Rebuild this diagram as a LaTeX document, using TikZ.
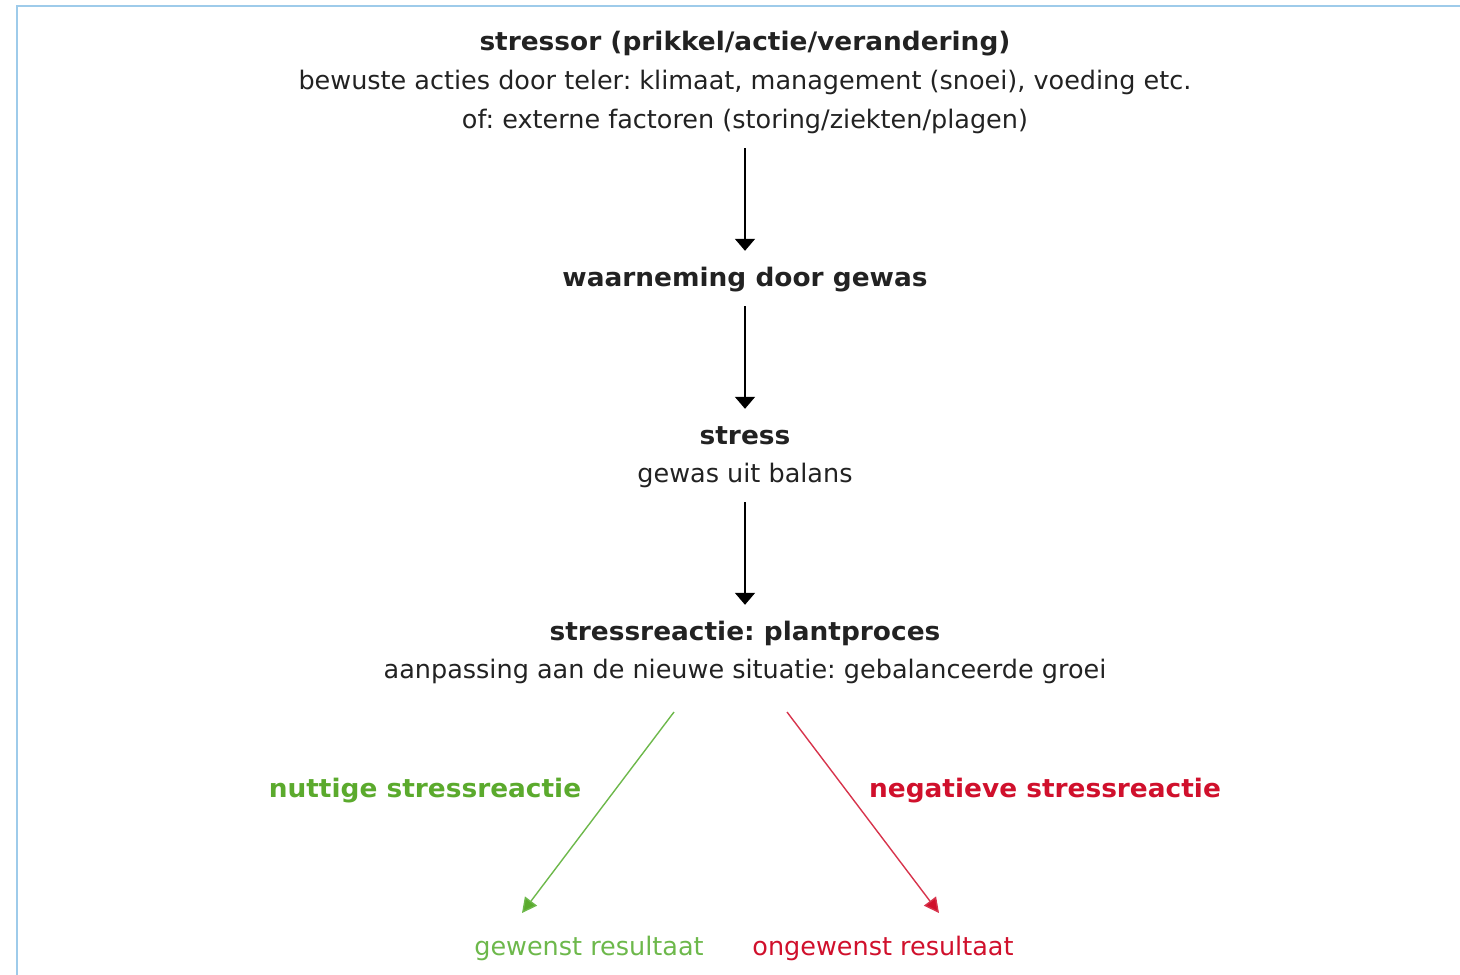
\documentclass[tikz,border=0pt]{standalone}
\usepackage{fontspec}
\setmainfont{DejaVu Sans}[BoldFeatures={FakeStretch=1.035}]
\usetikzlibrary{arrows.meta}
\frenchspacing
\definecolor{txt}{HTML}{222222}
\definecolor{gr}{HTML}{5BAA2D}
\definecolor{grl}{HTML}{6DB84B}
\definecolor{rd}{HTML}{D0102C}
\definecolor{bord}{HTML}{9ECBEA}
\tikzset{
  lbl/.style={inner sep=0pt, anchor=base, text height=19pt, text depth=6pt, font=\fontsize{25.5}{30}\selectfont, text=txt},
  bld/.style={lbl, font=\fontsize{25.5}{30}\selectfont\bfseries},
  flow/.style={line width=1.8pt, draw=black, -{Triangle[width=20pt,length=12pt]}, shorten <=14pt, shorten >=16pt},
  goodarr/.style={line width=1.4pt, draw=grl, -{Triangle[width=15pt,length=15pt,fill=gr]}},
  badarr/.style={line width=1.4pt, draw=rd!85, -{Triangle[width=15pt,length=15pt,fill=rd]}}
}
\begin{document}
\begin{tikzpicture}[x=1pt,y=-1pt]
\useasboundingbox (0,0) rectangle (1460,975);
\draw[bord, line width=2pt] (17,975) -- (17,6) -- (1460,6);
\node[bld] (s1) at (745,50) {stressor (prikkel/actie/verandering)};
\node[lbl] (s2) at (745,89) {bewuste acties door teler: klimaat, management (snoei), voeding etc.};
\node[lbl] (s3) at (745,128) {of: externe factoren (storing/ziekten/plagen)};
\node[bld] (w) at (745,286) {waarneming door gewas};
\node[bld] (st) at (745,444) {stress};
\node[lbl] (gub) at (745,482) {gewas uit balans};
\node[bld] (sr) at (745,640) {stressreactie: plantproces};
\node[lbl] (aan) at (745,678) {aanpassing aan de nieuwe situatie: gebalanceerde groei};
\node[bld, text=gr] (nut) at (425,797) {nuttige stressreactie};
\node[bld, text=rd] (neg) at (1045,797) {negatieve stressreactie};
\node[lbl, text=grl] (gew) at (589,955) {gewenst resultaat};
\node[lbl, text=rd] (ong) at (883,955) {ongewenst resultaat};
\draw[flow] (s3) -- (w);
\draw[flow] (w) -- (st);
\draw[flow] (gub) -- (sr);
\coordinate (gs) at (674,712);
\coordinate (ge) at (522,913);
\coordinate (rs) at (787,712);
\coordinate (re) at (939,913);
\draw[goodarr] (gs) -- (ge);
\draw[badarr] (rs) -- (re);
\end{tikzpicture}
\end{document}
